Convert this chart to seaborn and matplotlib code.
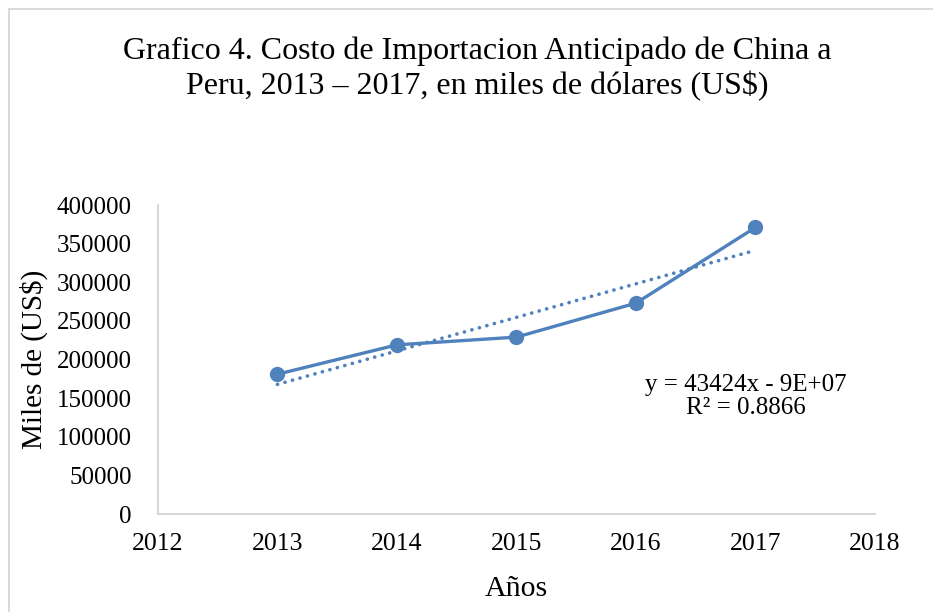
import numpy as np
import pandas as pd
import matplotlib
matplotlib.use("Agg")
import matplotlib.pyplot as plt
import seaborn as sns
from matplotlib.patches import Rectangle

# ─── Data ─────────────────────────────────────────────────────────────────────

YEARS  = [2013, 2014, 2015, 2016, 2017]
VALUES = [181000, 219000, 229000, 273000, 371000]

TITLE  = "Grafico 4. Costo de Importacion Anticipado de China a\nPeru, 2013 \u2013 2017, en miles de dólares (US$)"
XLABEL = "Años"
YLABEL = "Miles de (US$)"
TREND_TEXT = "y = 43424x - 9E+07\nR² = 0.8866"
XTICKS = [2012, 2013, 2014, 2015, 2016, 2017, 2018]
YTICKS = list(range(0, 400001, 50000))

BLUE = "#4F81BD"

df = pd.DataFrame({"year": YEARS, "value": VALUES})

# ─── Plot ─────────────────────────────────────────────────────────────────────

sns.set_style("white")
plt.rcParams["font.family"] = ["Liberation Serif", "DejaVu Serif"]
plt.rcParams["text.color"] = "black"
plt.rcParams["xtick.color"] = "black"
plt.rcParams["ytick.color"] = "black"
plt.rcParams["axes.labelcolor"] = "black"

fig = plt.figure(figsize=(9.33, 6.12), dpi=100)
ax = fig.add_axes([0.1693, 0.1601, 0.7685, 0.5049])

# linear trendline (Excel style, dotted)
sns.regplot(
    data=df, x="year", y="value", ax=ax, scatter=False, ci=None,
    color=BLUE,
    line_kws={"linestyle": (0, (0.05, 2.1)), "linewidth": 2.6,
              "dash_capstyle": "round"},
)
sns.lineplot(
    data=df, x="year", y="value", ax=ax, color=BLUE, linewidth=2.4,
    marker="o", markersize=11, markeredgewidth=0,
)

ax.text(2016.92, 152000, TREND_TEXT, ha="center", va="center",
        fontsize=18, linespacing=1.1)

ax.set_xlim(2012, 2018)
ax.set_ylim(0, 400000)
ax.set_xticks(XTICKS)
ax.set_yticks(YTICKS)
ax.tick_params(axis="x", labelsize=18.5, length=0, pad=14)
ax.tick_params(axis="y", labelsize=18, length=0, pad=19)
ax.set_xlabel(XLABEL, fontsize=21.5, labelpad=15)
ax.set_ylabel(YLABEL, fontsize=21, labelpad=6)

for side in ["top", "right"]:
    ax.spines[side].set_visible(False)
for side in ["left", "bottom"]:
    ax.spines[side].set_color("#D0D0D0")
    ax.spines[side].set_linewidth(1.2)

fig.text(0.511, 0.888, TITLE, ha="center", va="center", fontsize=23, linespacing=1.2)

# chart-area border (bottom and right edges fall outside the image)
fig.patches.append(Rectangle((8.5 / 933, -0.05), 1.1, (612 - 8.5) / 612 + 0.05,
                             transform=fig.transFigure, fill=False,
                             edgecolor="#D9D9D9", linewidth=1.4))

fig.savefig("out.png", dpi=100)
